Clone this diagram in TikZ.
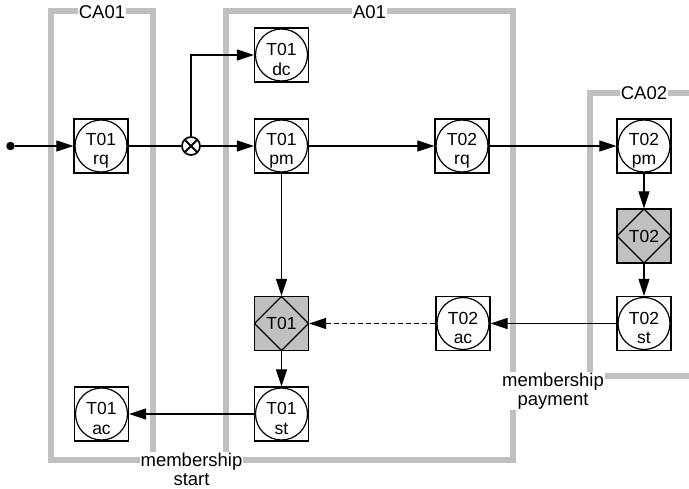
\documentclass[tikz,border=0pt]{standalone}
\usepackage{fontspec}
\setmainfont{Liberation Sans}
\usetikzlibrary{arrows.meta}
\definecolor{lanegray}{RGB}{192,192,192}
\begin{document}
\begin{tikzpicture}[x=1pt,y=-1pt,
  lane/.style={draw=lanegray, line width=6pt},
  lanelbl/.style={fill=white, inner sep=1pt, font=\fontsize{18.5}{19}\selectfont, align=center},
  txt/.style={font=\fontsize{17.5}{19.5}\selectfont, align=center, inner sep=0pt},
  tbox/.style={draw, line width=1.2pt, minimum size=54pt, inner sep=0pt, fill=white,
     path picture={\draw[line width=1.2pt] (path picture bounding box.center) circle (26pt);},
     label={[txt,yshift=-4.5pt]center:#1}},
  dbox/.style={draw, line width=1.2pt, minimum size=54pt, inner sep=0pt, fill=lanegray,
     path picture={\draw[line width=1.2pt] (path picture bounding box.north) -- (path picture bounding box.east) -- (path picture bounding box.south) -- (path picture bounding box.west) -- cycle;},
     label={[txt]center:#1}},
  xnode/.style={circle, draw, line width=1.7pt, minimum size=18pt, inner sep=0pt, fill=white,
     path picture={\draw[line width=2pt] (path picture bounding box.north west) -- (path picture bounding box.south east) (path picture bounding box.north east) -- (path picture bounding box.south west);}},
  dotn/.style={circle, fill=black, minimum size=8.5pt, inner sep=0pt},
  conn/.style={line width=1.1pt, -{Triangle[length=17pt,width=11pt]}},
  plainline/.style={line width=1.1pt},
  dashline/.style={dash pattern=on 5pt off 3pt}
]
\useasboundingbox (0,0) rectangle (689,489);
\clip (0,0) rectangle (689,489);
% lanes
\draw[lane] (51,11) rectangle (153,460);
\draw[lane] (226,11) rectangle (513,460);
\draw[lane] (590,93) rectangle (700,376);
% lane labels
\node[lanelbl] (lca01) at (102,12.5) {CA01};
\node[lanelbl] (la01) at (369.5,12.5) {A01};
\node[lanelbl] (lca02) at (644,93.5) {CA02};
\node[lanelbl] (lstart) at (191.5,469) {membership\\start};
\node[lanelbl] (lpay) at (553,391) {membership\\payment};
% nodes
\node[dotn] (start) at (10.5,146) {};
\node[tbox={T01\\rq}] (t01rq) at (101,146) {};
\node[xnode] (xj) at (191,146) {};
\node[tbox={T01\\dc}] (t01dc) at (281.5,55) {};
\node[tbox={T01\\pm}] (t01pm) at (281.5,146) {};
\node[tbox={T02\\rq}] (t02rq) at (462,146) {};
\node[tbox={T02\\pm}] (t02pm) at (644,146) {};
\node[dbox={T02}] (t02d) at (644,236) {};
\node[tbox={T02\\st}] (t02st) at (644,323.5) {};
\node[tbox={T02\\ac}] (t02ac) at (463,323.5) {};
\node[dbox={T01}] (t01d) at (281.5,323.5) {};
\node[tbox={T01\\st}] (t01st) at (281.5,414) {};
\node[tbox={T01\\ac}] (t01ac) at (101.5,414) {};
% connectors
\draw[conn] (start) -- (t01rq);
\draw[plainline] (t01rq) -- (xj);
\draw[conn] (xj) -- (t01pm);
\draw[conn] (xj) |- (t01dc);
\draw[conn] (t01pm) -- (t02rq);
\draw[conn] (t02rq) -- (t02pm);
\draw[conn] (t01pm) -- (t01d);
\draw[conn] (t02pm) -- (t02d);
\draw[conn] (t02d) -- (t02st);
\draw[conn] (t02st) -- (t02ac);
\draw[conn,dashline] (t02ac) -- (t01d);
\draw[conn] (t01d) -- (t01st);
\draw[conn] (t01st) -- (t01ac);
\end{tikzpicture}
\end{document}
